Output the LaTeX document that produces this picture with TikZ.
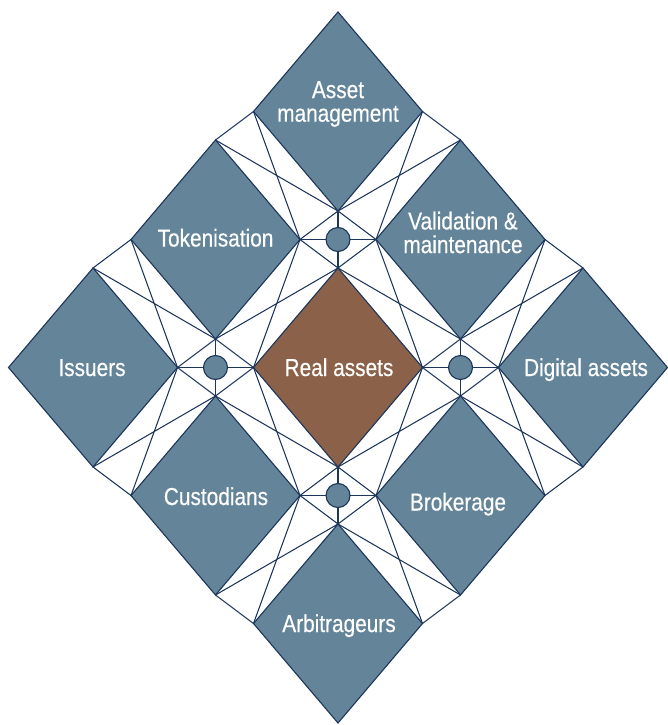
\documentclass[tikz,border=0pt]{standalone}
\usepackage{fontspec}
\setmainfont{Liberation Sans}[FakeStretch=0.85, FakeBold=0.4]
\usetikzlibrary{shapes.geometric}
\definecolor{steel}{HTML}{648599}
\definecolor{rust}{HTML}{8B6249}
\definecolor{navy}{HTML}{1C355A}
\tikzset{
  tile/.style={diamond, draw=navy, line width=1.1pt, fill=steel, minimum width=169pt, minimum height=199pt, inner sep=0pt, outer sep=0pt},
  core/.style={tile, fill=rust},
  hubdot/.style={circle, draw=navy, line width=1.1pt, fill=steel, minimum size=24pt, inner sep=0pt, outer sep=0pt},
  lab/.style={text=white, font=\fontsize{24.5}{23.6}\selectfont, align=center, inner sep=0pt},
  wire/.style={draw=navy, line width=1.05pt, line join=round, line cap=round},
}
\begin{document}
\begin{tikzpicture}[x=1pt, y=-1pt]
\useasboundingbox (0,0) rectangle (668,725);
% tiles
\node[tile] (am)  at (338,111.5) {};
\node[tile] (val) at (460.5,239.5) {};
\node[tile] (dig) at (583,367.5) {};
\node[tile] (tok) at (215.5,239.5) {};
\node[core] (ra)  at (338,367.5) {};
\node[tile] (bro) at (460.5,495.5) {};
\node[tile] (iss) at (93,367.5) {};
\node[tile] (cus) at (215.5,495.5) {};
\node[tile] (arb) at (338,623.5) {};
% hubs
\node[hubdot] (h1) at (338,239.5) {};
\node[hubdot] (h2) at (215.5,367.5) {};
\node[hubdot] (h3) at (460.5,367.5) {};
\node[hubdot] (h4) at (338,495.5) {};
% strips: diagonals and outer edges
\draw[wire] (am.east) -- (val.west) (am.south) -- (val.north) (am.east) -- (val.north);
\draw[wire] (val.east) -- (dig.west) (val.south) -- (dig.north) (val.east) -- (dig.north);
\draw[wire] (tok.east) -- (ra.west) (tok.south) -- (ra.north);
\draw[wire] (ra.east) -- (bro.west) (ra.south) -- (bro.north);
\draw[wire] (iss.east) -- (cus.west) (iss.south) -- (cus.north) (iss.south) -- (cus.west);
\draw[wire] (cus.east) -- (arb.west) (cus.south) -- (arb.north) (cus.south) -- (arb.west);
\draw[wire] (am.west) -- (tok.east) (am.south) -- (tok.north) (am.west) -- (tok.north);
\draw[wire] (tok.west) -- (iss.east) (tok.south) -- (iss.north) (tok.west) -- (iss.north);
\draw[wire] (val.west) -- (ra.east) (val.south) -- (ra.north);
\draw[wire] (ra.west) -- (cus.east) (ra.south) -- (cus.north);
\draw[wire] (dig.west) -- (bro.east) (dig.south) -- (bro.north) (dig.south) -- (bro.east);
\draw[wire] (bro.west) -- (arb.east) (bro.south) -- (arb.north) (bro.south) -- (arb.east);
% hub edges and spokes
\draw[wire] (am.south) -- (tok.east) -- (ra.north) -- (val.west) -- cycle;
\draw[wire] (am.south) -- (h1) (tok.east) -- (h1) (ra.north) -- (h1) (val.west) -- (h1);
\draw[wire] (tok.south) -- (iss.east) -- (cus.north) -- (ra.west) -- cycle;
\draw[wire] (tok.south) -- (h2) (iss.east) -- (h2) (cus.north) -- (h2) (ra.west) -- (h2);
\draw[wire] (val.south) -- (ra.east) -- (bro.north) -- (dig.west) -- cycle;
\draw[wire] (val.south) -- (h3) (ra.east) -- (h3) (bro.north) -- (h3) (dig.west) -- (h3);
\draw[wire] (ra.south) -- (cus.east) -- (arb.north) -- (bro.west) -- cycle;
\draw[wire] (ra.south) -- (h4) (cus.east) -- (h4) (arb.north) -- (h4) (bro.west) -- (h4);
% labels
\node[lab] (amt) at (338,104) {Asset\\management};
\node[lab] (valt) at (463,232.5) {Validation \&\\maintenance};
\node[lab, anchor=base] (tokt) at (215.5,246.5) {Tokenisation};
\node[lab, anchor=base] (isst) at (92,376) {Issuers};
\node[lab, anchor=base] (rat) at (339,376) {Real assets};
\node[lab, anchor=base] (digt) at (586,376) {Digital assets};
\node[lab, anchor=base] (cust) at (216,505) {Custodians};
\node[lab, anchor=base] (brot) at (458,510.5) {Brokerage};
\node[lab, anchor=base] (arbt) at (339,632) {Arbitrageurs};
\end{tikzpicture}
\end{document}
